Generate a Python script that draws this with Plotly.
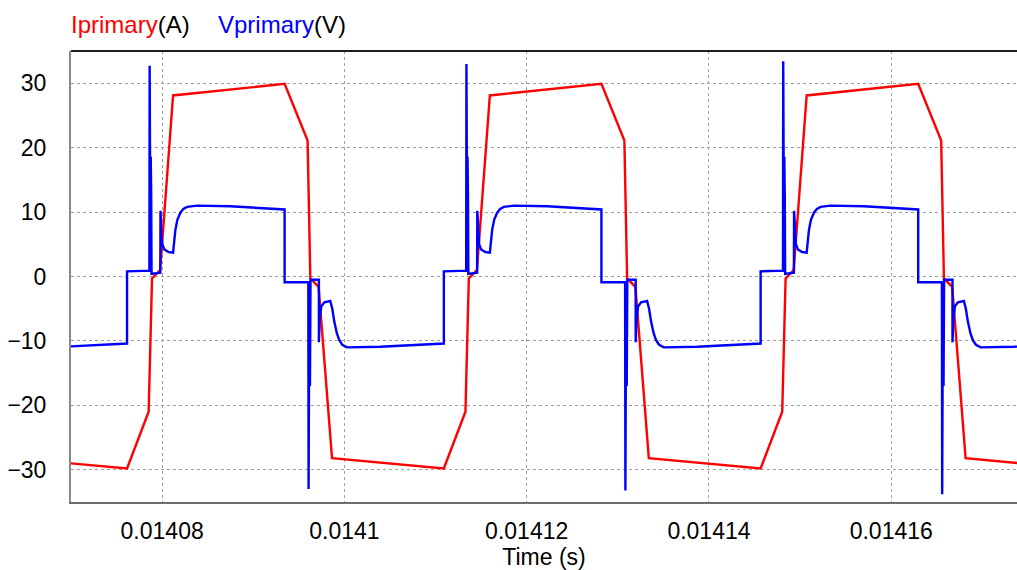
import numpy as np
import plotly.graph_objects as go

# Primary-side waveforms of the converter, time in microseconds
i_time_us = [
    14063.88, 14076.15, 14078.52, 14078.89, 14079.78, 14081.20, 14093.44, 14095.96, 14096.26, 14097.17, 14098.64,
    14110.91, 14113.28, 14113.65, 14114.54, 14115.96, 14128.20, 14130.72, 14131.02, 14131.93, 14133.40,
    14145.67, 14148.04, 14148.41, 14149.30, 14150.72, 14162.96, 14165.48, 14165.78, 14166.69, 14168.16,
    14180.43,
]
i_primary = [
    -28.2, -29.8, -21.0, -0.3, 1.0, 28.1, 29.9, 21.1, -0.3, -1.6, -28.2,
    -29.8, -21.0, -0.3, 1.0, 28.1, 29.9, 21.1, -0.3, -1.6, -28.2,
    -29.8, -21.0, -0.3, 1.0, 28.1, 29.9, 21.1, -0.3, -1.6, -28.2,
    -29.8,
]

v_time_us = [
    14069.18,
    14076.15, 14076.15, 14078.60, 14078.63, 14078.71, 14078.75, 14078.80, 14078.84, 14079.80, 14079.82,
    14079.91, 14080.02, 14080.24, 14080.71, 14081.20, 14081.45, 14081.67, 14082.00, 14082.33, 14082.73,
    14083.83, 14087.48, 14093.44, 14093.44, 14096.04, 14096.07, 14096.15, 14096.22, 14096.28, 14097.20,
    14097.20, 14097.30, 14097.47, 14097.80, 14098.45, 14098.67, 14098.89, 14099.17, 14099.44, 14099.77,
    14100.29, 14103.94,
    14110.91, 14110.91, 14113.36, 14113.39, 14113.47, 14113.51, 14113.56, 14113.60, 14114.56, 14114.58,
    14114.67, 14114.78, 14115.00, 14115.47, 14115.96, 14116.21, 14116.43, 14116.76, 14117.09, 14117.49,
    14118.59, 14122.24, 14128.20, 14128.20, 14130.80, 14130.83, 14130.91, 14130.98, 14131.04, 14131.96,
    14131.96, 14132.06, 14132.23, 14132.56, 14133.21, 14133.43, 14133.65, 14133.93, 14134.20, 14134.53,
    14135.05, 14138.70,
    14145.67, 14145.67, 14148.12, 14148.15, 14148.23, 14148.27, 14148.32, 14148.36, 14149.32, 14149.34,
    14149.43, 14149.54, 14149.76, 14150.23, 14150.72, 14150.97, 14151.19, 14151.52, 14151.85, 14152.25,
    14153.35, 14157.00, 14162.96, 14162.96, 14165.56, 14165.59, 14165.67, 14165.74, 14165.80, 14166.72,
    14166.72, 14166.82, 14166.99, 14167.32, 14167.97, 14168.19, 14168.41, 14168.69, 14168.96, 14169.29,
    14169.81, 14173.46,
    14180.43,
]
v_primary = [
    -10.9,
    -10.4, 0.8, 0.9, 32.7, 5.0, 18.6, 12.5, 0.4, 0.6, 10.2,
    6.5, 5.0, 4.2, 3.8, 3.7, 7.2, 8.8, 9.9, 10.5, 10.8,
    11.0, 10.9, 10.4, -0.9, -0.9, -33.0, -3.0, -17.0, -0.5, -0.5,
    -10.2, -6.5, -4.6, -4.0, -3.8, -5.0, -7.0, -8.8, -9.9, -10.6,
    -11.0, -10.9,
    -10.4, 0.8, 0.9, 33.0, 5.0, 18.6, 12.5, 0.4, 0.6, 10.2,
    6.5, 5.0, 4.2, 3.8, 3.7, 7.2, 8.8, 9.9, 10.5, 10.8,
    11.0, 10.9, 10.4, -0.9, -0.9, -33.2, -3.0, -17.0, -0.5, -0.5,
    -10.2, -6.5, -4.6, -4.0, -3.8, -5.0, -7.0, -8.8, -9.9, -10.6,
    -11.0, -10.9,
    -10.4, 0.8, 0.9, 33.4, 5.0, 18.6, 12.5, 0.4, 0.6, 10.2,
    6.5, 5.0, 4.2, 3.8, 3.7, 7.2, 8.8, 9.9, 10.5, 10.8,
    11.0, 10.9, 10.4, -0.9, -0.9, -33.8, -3.0, -17.0, -0.5, -0.5,
    -10.2, -6.5, -4.6, -4.0, -3.8, -5.0, -7.0, -8.8, -9.9, -10.6,
    -11.0, -10.9,
    -10.4,
]

x_tick_vals = [0.01408, 0.0141, 0.01412, 0.01414, 0.01416]
x_tick_text = ["0.01408", "0.0141", "0.01412", "0.01414", "0.01416"]
y_tick_vals = [-30, -20, -10, 0, 10, 20, 30]

FONT = "Liberation Sans, Arial, sans-serif"
FS = 23
HEAD_FS = 24

fig = go.Figure()
fig.add_trace(go.Scatter(
    x=np.array(i_time_us) * 1e-6, y=i_primary, mode="lines",
    line=dict(color="#ff0000", width=2.4), name="Iprimary(A)",
))
fig.add_trace(go.Scatter(
    x=np.array(v_time_us) * 1e-6, y=v_primary, mode="lines",
    line=dict(color="#0000ff", width=2.4), name="Vprimary(V)",
))

fig.update_layout(
    width=1017, height=570,
    margin=dict(l=71, r=0, t=51, b=68),
    paper_bgcolor="white", plot_bgcolor="white",
    showlegend=False,
    font=dict(family=FONT, size=FS, color="#000000"),
    xaxis=dict(
        range=[0.01407, 0.0141738],
        tickvals=x_tick_vals, ticktext=x_tick_text,
        showgrid=True, gridcolor="#a0a0a0", griddash="dot", gridwidth=1,
        zeroline=False, showline=True, linecolor="#6e6e6e", linewidth=2,
        ticks="", ticklabelstandoff=7,
        title=dict(text="Time (s)", font=dict(size=FS), standoff=0),
    ),
    yaxis=dict(
        range=[-35, 35],
        tickvals=y_tick_vals,
        showgrid=True, gridcolor="#a0a0a0", griddash="dot", gridwidth=1,
        zeroline=False, showline=True, linecolor="#8a8a8a", linewidth=2,
        ticks="", ticklabelstandoff=18,
    ),
    shapes=[dict(type="line", xref="paper", yref="paper", x0=0, x1=1, y0=1, y1=1,
                 line=dict(color="#1e1e1e", width=2))],
    annotations=[
        dict(xref="paper", yref="paper", x=0, y=1.058, xanchor="left", yanchor="middle",
             xshift=-2, showarrow=False, font=dict(size=HEAD_FS),
             text='<span style="color:#ff0000">Iprimary</span>(A)'),
        dict(xref="paper", yref="paper", x=0.1554, y=1.058, xanchor="left", yanchor="middle",
             xshift=-2, showarrow=False, font=dict(size=HEAD_FS),
             text='<span style="color:#0000ff">Vprimary</span>(V)'),
    ],
)

fig.write_html("out.html")
